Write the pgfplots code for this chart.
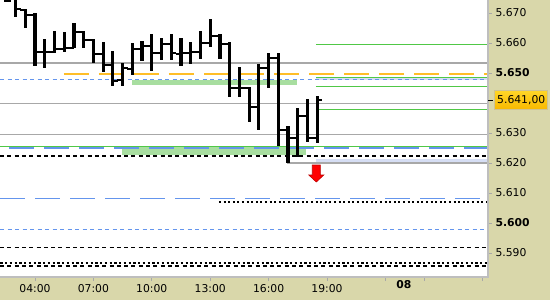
\documentclass[border=0pt]{standalone}
\usepackage{pgfplots}
\pgfplotsset{compat=1.18}
\usepackage{pgfplotstable}
\usepackage{fontspec}
\setmainfont{DejaVu Sans}

\definecolor{bgk}{RGB}{217,215,170}
\definecolor{gline}{RGB}{168,168,168}
\definecolor{oline}{RGB}{255,190,40}
\definecolor{bline}{RGB}{100,149,237}
\definecolor{grline}{RGB}{80,200,70}
\definecolor{gband}{RGB}{168,222,160}
\definecolor{bband}{RGB}{214,222,244}
\definecolor{border}{RGB}{190,190,190}

\pgfdeclareplotmark{otick}{\pgfpathrectanglecorners{\pgfqpoint{-5.2pt}{-1.1pt}}{\pgfqpoint{0pt}{1.1pt}}\pgfusepathqfill}
\pgfdeclareplotmark{ctick}{\pgfpathrectanglecorners{\pgfqpoint{0pt}{-1.1pt}}{\pgfqpoint{5.2pt}{1.1pt}}\pgfusepathqfill}
% high-low stroke around the close; \up and \dn are lengths in pt (3pt per 0.001)
\pgfdeclareplotmark{hilo}{\pgfpathrectanglecorners{\pgfpoint{-1.6pt}{-\dn pt}}{\pgfpoint{1.6pt}{\up pt}}\pgfusepathqfill}
\pgfdeclareplotmark{dnarrow}{%
 \pgfpathmoveto{\pgfqpoint{-4pt}{8.5pt}}%
 \pgfpathlineto{\pgfqpoint{4pt}{8.5pt}}%
 \pgfpathlineto{\pgfqpoint{4pt}{-1.5pt}}%
 \pgfpathlineto{\pgfqpoint{7.5pt}{-1.5pt}}%
 \pgfpathlineto{\pgfqpoint{0pt}{-8.5pt}}%
 \pgfpathlineto{\pgfqpoint{-7.5pt}{-1.5pt}}%
 \pgfpathlineto{\pgfqpoint{-4pt}{-1.5pt}}%
 \pgfpathclose\pgfusepathqfillstroke}

% prices; the axis works in (price-5.5)*1000 internally
\pgfplotstableread{
t o h l c
2.5 5.6760 5.6775 5.6738 5.6741
3.0 5.6750 5.6760 5.6686 5.6713
3.5 5.6710 5.6713 5.6649 5.6693
4.0 5.6693 5.6700 5.6524 5.6570
4.5 5.6569 5.6612 5.6518 5.6571
5.0 5.6570 5.6640 5.6567 5.6580
5.5 5.6580 5.6637 5.6570 5.6583
6.0 5.6583 5.6667 5.6583 5.6637
6.5 5.6637 5.6640 5.6583 5.6610
7.0 5.6610 5.6613 5.6533 5.6563
7.5 5.6563 5.6603 5.6503 5.6527
8.0 5.6527 5.6573 5.6457 5.6473
8.5 5.6477 5.6533 5.6457 5.6517
9.0 5.6513 5.6600 5.6493 5.6580
9.5 5.6580 5.6607 5.6540 5.6590
10.0 5.6590 5.6630 5.6507 5.6567
10.5 5.6567 5.6617 5.6543 5.6597
11.0 5.6597 5.6630 5.6543 5.6567
11.5 5.6563 5.6617 5.6523 5.6567
12.0 5.6567 5.6603 5.6530 5.6570
12.5 5.6570 5.6640 5.6547 5.6600
13.0 5.6600 5.6680 5.6587 5.6623
13.5 5.6623 5.6630 5.6547 5.6597
14.0 5.6596 5.6603 5.6420 5.6450
14.5 5.6450 5.6520 5.6420 5.6450
15.0 5.6450 5.6453 5.6337 5.6387
15.5 5.6387 5.6530 5.6310 5.6517
16.0 5.6517 5.6567 5.6450 5.6550
16.5 5.6550 5.6567 5.6257 5.6310
17.0 5.6310 5.6323 5.6200 5.6283
17.5 5.6283 5.6383 5.6220 5.6357
18.0 5.6357 5.6413 5.6270 5.6283
18.5 5.6283 5.6423 5.6267 5.6410
}\bars

\begin{document}
\begin{tikzpicture}
\useasboundingbox (0,0) rectangle (550pt,-300pt);
\fill[bgk] (0,0) rectangle (550pt,-300pt);
\begin{axis}[
  at={(0,0)}, anchor=north west,
  scale only axis, width=488pt, height=277pt,
  y filter/.expression={(y-5.5)*1000},
  xmin=2.2025, xmax=27.27, ymin=82, ymax=174.333,
  axis background/.style={fill=white},
  axis line style={draw=none},
  /pgf/number format/assume math mode=true,
  ytick={90,100,110,120,130,150,160,170},
  yticklabels={5.590,\textbf{5.600},5.610,5.620,5.630,\textbf{5.650},5.660,5.670},
  ytick pos=right, yticklabel pos=right,
  xtick={4,7,10,13,16,19,22,24,27},
  xticklabels={04:00,07:00,10:00,13:00,16:00,19:00,,,},
  xtick pos=bottom,
  extra x ticks={22.95},
  extra x tick labels={\textbf{08}},
  extra x tick style={major tick length=0pt},
  tick align=outside, major tick length=4pt,
  tick style={draw=gline, line width=0.8pt},
  tick label style={font=\fontsize{10.8}{13}\selectfont, text=black},
  clip mode=global,
]
% bands
\addplot[fill=gband, draw=none] coordinates {(8.98,5.64767) (17.46,5.64767) (17.46,5.64600) (8.98,5.64600)} --cycle;
\addplot[fill=gband, draw=none] coordinates {(8.47,5.62523) (17.92,5.62523) (17.92,5.62283) (8.47,5.62283)} --cycle;
\addplot[fill=bband, draw=none] coordinates {(18.43,5.64867) (27.27,5.64867) (27.27,5.64767) (18.43,5.64767)} --cycle;
\addplot[fill=bband, draw=none] coordinates {(18.43,5.62133) (27.27,5.62133) (27.27,5.62000) (18.43,5.62000)} --cycle;
% gray lines
\addplot[gline, line width=1.2pt] coordinates {(2.2025,5.65333) (27.27,5.65333)};
\addplot[gline, line width=1.2pt] coordinates {(2.2025,5.63990) (27.27,5.63990)};
\addplot[gline, line width=1.2pt] coordinates {(2.2025,5.62957) (27.27,5.62957)};
\addplot[gline, line width=1.2pt] coordinates {(16.94,5.62000) (27.27,5.62000)};
% orange
\addplot[oline, line width=1.2pt, dash pattern=on 25pt off 10pt] coordinates {(5.49,5.64967) (27.27,5.64967)};
% green right lines
\addplot[grline, line width=1.1pt] coordinates {(18.43,5.65957) (27.27,5.65957)};
\addplot[grline, line width=1.1pt] coordinates {(18.43,5.64857) (27.27,5.64857)};
\addplot[grline, line width=1.1pt] coordinates {(18.43,5.64557) (27.27,5.64557)};
\addplot[grline, line width=1.1pt] coordinates {(18.43,5.63790) (27.27,5.63790)};
\addplot[grline, line width=1.2pt] coordinates {(2.2025,5.62560) (27.27,5.62560)};
% blue lines
\addplot[bline, line width=1.1pt, dash pattern=on 4.3pt off 3.2pt] coordinates {(2.2025,5.64790) (27.27,5.64790)};
\addplot[bline, line width=1.1pt, dash pattern=on 25pt off 10pt, dash phase=26pt] coordinates {(2.2025,5.62500) (27.27,5.62500)};
\addplot[bline, line width=1.1pt, dash pattern=on 25pt off 10pt] coordinates {(2.2025,5.60823) (27.27,5.60823)};
\addplot[bline, line width=1.1pt, dash pattern=on 4.3pt off 3.2pt] coordinates {(2.2025,5.59790) (27.27,5.59790)};
% black lines
\addplot[black, line width=1.1pt, dash pattern=on 4pt off 3.3pt] coordinates {(2.2025,5.62233) (27.27,5.62233)};
\addplot[black, line width=2.2pt, dash pattern=on 2pt off 2.6pt] coordinates {(13.45,5.60690) (27.27,5.60690)};
\addplot[black, line width=1.1pt, dash pattern=on 4pt off 3.3pt] coordinates {(2.2025,5.59190) (27.27,5.59190)};
\addplot[black, line width=2pt, dash pattern=on 2.5pt off 2.5pt on 2pt off 2.5pt] coordinates {(2.2025,5.58677) (27.27,5.58677)};
\addplot[black, line width=1.1pt, dash pattern=on 4pt off 3.3pt] coordinates {(2.2025,5.58567) (27.27,5.58567)};
% OHLC bars
\addplot[only marks, mark=hilo, mark options={fill=black, draw=none},
  visualization depends on={3000*(\thisrow{h}-\thisrow{c}) \as \up},
  visualization depends on={3000*(\thisrow{c}-\thisrow{l}) \as \dn}]
  table[x=t, y=c] {\bars};
\addplot[only marks, mark=otick, mark options={fill=black, draw=none}] table[x=t, y=o] {\bars};
\addplot[only marks, mark=ctick, mark options={fill=black, draw=none}] table[x=t, y=c] {\bars};
% red arrow
\addplot[only marks, mark=dnarrow, mark options={fill=red, draw=red!75!black, line width=0.6pt}] coordinates {(18.45,5.6165)};
\coordinate (TR) at (rel axis cs:1,1);
\coordinate (BR) at (rel axis cs:1,0);
\coordinate (BL) at (rel axis cs:0,0);
\coordinate (P641) at (axis cs:27.27,141);
\end{axis}
\draw[border, line width=2.5pt] (TR) -- (BR) -- (BL);
\draw[black, line width=1pt] (P641) -- ([xshift=4.5pt]P641);
\node[anchor=west, inner xsep=2.6pt, inner ysep=0pt, minimum height=19pt,
  top color={rgb,255:red,255;green,214;blue,40}, bottom color={rgb,255:red,248;green,184;blue,0},
  draw={rgb,255:red,205;green,195;blue,150}, line width=0.8pt,
  font=\fontsize{10.8}{13}\selectfont] at ([xshift=6.2pt]P641) {5.641,00};
\end{tikzpicture}
\end{document}
